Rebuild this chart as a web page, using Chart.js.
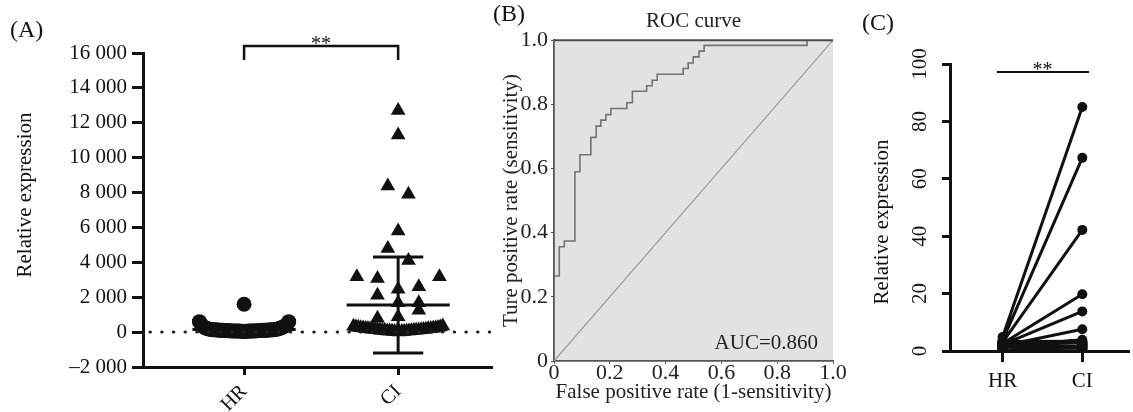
<!DOCTYPE html>
<html>
<head>
<meta charset="utf-8">
<script src="https://cdn.jsdelivr.net/npm/chart.js@4.4.1/dist/chart.umd.min.js"></script>
<style>
  html, body { margin: 0; padding: 0; background: #fff; }
  #wrap { position: relative; width: 1133px; height: 412px; overflow: hidden; }
  canvas { position: absolute; top: 0; }
  #chartA { left: 0; }
  #chartB { left: 490px; }
  #chartC { left: 850px; }
</style>
</head>
<body>
<div id="wrap">
  <canvas id="chartA" width="500" height="412"></canvas>
  <canvas id="chartB" width="362" height="412"></canvas>
  <canvas id="chartC" width="283" height="412"></canvas>
</div>
<script>
// ---- data ----
const groups = ['HR', 'CI'];

// (A) relative expression per sample, HR = circles, CI = triangles
const hrValues = [600, 430, 340, 270, 220, 190, 170, 150, 140, 130, 120, 120, 110, 100, 100, 90, 90, 80, 80, 70,
  70, 60, 60, 60, 50, 50, 1600, 40, 50, 50, 60, 60, 70, 70, 80, 80, 90, 90, 100, 100,
  110, 120, 120, 130, 140, 150, 170, 190, 220, 260, 310, 370, 450, 600];
const ciValues = [12700, 11300, 8370, 7900, 5800, 4800, 4100, 3170, 3080, 2460, 2600, 3170, 2120, 1680, 1680, 790, 880, 1260,
  340, 300, 280, 250, 240, 210, 200, 180, 160, 150, 130, 110, 110, 90, 70, 70, 50, 30, 20, 10,
  30, 40, 60, 60, 80, 100, 100, 120, 130, 150, 160, 190, 200, 220, 240, 270, 300, 350];
const hrMean = 150, hrSD = 220;
const ciMean = 1550, ciSD = 2750;

// (B) ROC curve corners
const fpr = [0, 0, 0.019, 0.037, 0.075, 0.093, 0.132, 0.151, 0.168, 0.186, 0.204, 0.261, 0.281, 0.332, 0.352, 0.370, 0.463, 0.481, 0.499, 0.520, 0.538, 0.907, 1];
const tpr = [0, 0.265, 0.356, 0.374, 0.590, 0.643, 0.697, 0.732, 0.751, 0.768, 0.787, 0.805, 0.841, 0.858, 0.875, 0.894, 0.912, 0.929, 0.948, 0.966, 0.984, 1, 1];
const aucText = 'AUC=0.860';

// (C) paired samples HR -> CI
const hrPaired = [4.9, 3.6, 3.0, 2.6, 2.2, 1.8, 1.5, 3.0, 2.6, 2.2, 1.9, 1.5, 1.2, 0.9, 0.6, 2.8, 1.7, 1.1, 0.8, 2.4, 2.0, 1.4, 3.3, 0.7, 1.6, 2.9, 1.0];
const ciPaired = [85.0, 67.3, 42.2, 19.8, 13.8, 7.6, 3.9, 3.2, 2.9, 2.5, 2.1, 1.8, 1.5, 1.2, 0.9, 0.6, 3.0, 2.2, 1.3, 2.7, 1.9, 0.8, 3.4, 1.0, 2.4, 1.6, 2.0];

// ---- helpers ----
const serif = "'Liberation Serif', 'Times New Roman', serif";
const ink = '#111';
Chart.defaults.font.family = serif;
Chart.defaults.color = ink;

// prism-like scatter layout: rows of similar values spread around the group centre
function swarm(values, center, step, halfWidth, rowGap) {
  const order = values.map((v, i) => i).sort((a, b) => values[b] - values[a] || a - b);
  const rows = [];
  order.forEach(i => {
    const row = rows[rows.length - 1];
    if (row && values[row[0]] - values[i] < rowGap) row.push(i);
    else rows.push([i]);
  });
  const pts = [];
  rows.forEach(row => {
    row.sort((a, b) => a - b);
    const n = row.length;
    const d = n > 1 ? Math.min(step, 2 * halfWidth / (n - 1)) : 0;
    row.forEach((idx, k) => pts.push({ x: center + (k - (n - 1) / 2) * d, y: values[idx] }));
  });
  return pts;
}

function errorBar(center, mean, sd, meanHalf, capHalf) {
  return [
    { x: center - meanHalf, y: mean }, { x: center + meanHalf, y: mean }, { x: center, y: null },
    { x: center - capHalf, y: mean + sd }, { x: center + capHalf, y: mean + sd }, { x: center, y: null },
    { x: center - capHalf, y: mean - sd }, { x: center + capHalf, y: mean - sd }, { x: center, y: null },
    { x: center, y: mean + sd }, { x: center, y: mean - sd }
  ];
}

function thousands(v) {
  const s = Math.abs(v).toString().replace(/\B(?=(\d{3})+(?!\d))/g, ' ');
  return (v < 0 ? '\u2013' : '') + s;
}

function text(ctx, str, x, y, size, opts = {}) {
  ctx.save();
  ctx.translate(x, y);
  if (opts.vertical) ctx.rotate(-Math.PI / 2);
  ctx.font = `${size}px ${serif}`;
  ctx.fillStyle = opts.color || ink;
  ctx.textAlign = opts.align || 'center';
  ctx.textBaseline = opts.baseline || 'middle';
  ctx.fillText(str, 0, 0);
  ctx.restore();
}

const axisFont = size => ({ family: serif, size: size, lineHeight: 1.2 });

// ---- (A) ----
const panelA = {
  id: 'panelA',
  afterDraw(chart) {
    const { ctx, scales: { x, y } } = chart;
    text(ctx, '(A)', 10, 31, 24, { align: 'left' });
    text(ctx, 'Relative expression', 25, 195, 21, { vertical: true });
    // significance bracket HR vs CI
    const x0 = x.getPixelForValue(0), x1 = x.getPixelForValue(1);
    const top = y.getPixelForValue(16400), leg = y.getPixelForValue(15600);
    ctx.save();
    ctx.strokeStyle = ink;
    ctx.lineWidth = 2.5;
    ctx.beginPath();
    ctx.moveTo(x0, leg); ctx.lineTo(x0, top); ctx.lineTo(x1, top); ctx.lineTo(x1, leg);
    ctx.stroke();
    ctx.restore();
    text(ctx, '**', (x0 + x1) / 2, top + 4, 20, { baseline: 'alphabetic' });
  }
};

new Chart(document.getElementById('chartA'), {
  type: 'scatter',
  data: {
    datasets: [
      { data: [{ x: -0.611, y: 0 }, { x: 1.606, y: 0 }], showLine: true, borderColor: '#222', borderWidth: 3,
        borderDash: [0.5, 11.2], borderCapStyle: 'round', pointRadius: 0 },
      { data: swarm(hrValues, 0, 0.134, 0.29, 750), pointStyle: 'circle', pointRadius: 7.5,
        backgroundColor: ink, pointBorderWidth: 0 },
      { data: swarm(ciValues, 1, 0.134, 0.29, 750), pointStyle: 'triangle', pointRadius: 8.5,
        backgroundColor: ink, pointBorderWidth: 0 },
      { data: errorBar(0, hrMean, hrSD, 0.335, 0.163), showLine: true, borderColor: ink, borderWidth: 3, pointRadius: 0 },
      { data: errorBar(1, ciMean, ciSD, 0.335, 0.163), showLine: true, borderColor: ink, borderWidth: 3, pointRadius: 0 }
    ]
  },
  options: {
    responsive: false,
    animation: false,
    devicePixelRatio: 1,
    layout: { padding: { left: 0, right: 2, top: 53, bottom: 0 } },
    plugins: { legend: { display: false }, tooltip: { enabled: false } },
    scales: {
      x: {
        type: 'linear', min: -0.656, max: 1.606,
        afterBuildTicks: s => { s.ticks = groups.map((g, i) => ({ value: i })); },
        afterFit: s => { s.height = 45; },
        grid: { drawOnChartArea: false, color: ink, lineWidth: 3, tickLength: 8 },
        border: { color: ink, width: 3 },
        ticks: { callback: v => groups[v], minRotation: 45, maxRotation: 45, padding: 5, font: axisFont(20) }
      },
      y: {
        min: -2000, max: 16000,
        afterFit: s => { s.width = 143; },
        grid: { drawOnChartArea: false, color: ink, lineWidth: 3, tickLength: 11 },
        border: { color: ink, width: 3 },
        ticks: { stepSize: 2000, callback: thousands, padding: 5, font: axisFont(21) }
      }
    }
  },
  plugins: [panelA]
});

// ---- (B) ----
const rocPanel = {
  id: 'rocPanel',
  beforeDraw(chart) {
    const { ctx, chartArea: a } = chart;
    ctx.save();
    ctx.fillStyle = '#e2e2e4';
    ctx.fillRect(a.left, a.top, a.width, a.height);
    ctx.restore();
  },
  afterDraw(chart) {
    const { ctx, chartArea: a } = chart;
    ctx.save();
    ctx.strokeStyle = '#4a4a4a';
    ctx.lineWidth = 2;
    ctx.beginPath();
    ctx.moveTo(a.left, a.top); ctx.lineTo(a.right, a.top);
    ctx.stroke();
    ctx.restore();
    text(ctx, aucText, a.right - 15, a.bottom - 18, 21, { align: 'right', color: '#222' });
    text(ctx, '(B)', 3, 15, 24, { align: 'left' });
  }
};

new Chart(document.getElementById('chartB'), {
  type: 'scatter',
  data: {
    datasets: [
      { data: [{ x: 0, y: 0 }, { x: 1, y: 1 }], showLine: true, borderColor: '#9a9a9a', borderWidth: 1.2, pointRadius: 0 },
      { data: fpr.map((v, i) => ({ x: v, y: tpr[i] })), showLine: true, stepped: 'before',
        borderColor: '#727272', borderWidth: 1.6, pointRadius: 0 }
    ]
  },
  options: {
    responsive: false,
    animation: false,
    devicePixelRatio: 1,
    layout: { padding: { left: 0, right: 19, top: 0, bottom: 0 } },
    plugins: {
      legend: { display: false }, tooltip: { enabled: false },
      title: { display: true, text: 'ROC curve', fullSize: false, color: '#222',
        font: { family: serif, size: 21, weight: 'normal', lineHeight: 1.2 }, padding: { top: 9, bottom: 6 } }
    },
    scales: {
      x: {
        min: 0, max: 1,
        afterFit: s => { s.height = 51; },
        grid: { drawOnChartArea: false, color: '#555', lineWidth: 1, tickLength: 3 },
        border: { color: '#555', width: 1.8 },
        ticks: { stepSize: 0.2, callback: v => v === 0 ? '0' : v.toFixed(1), padding: -4, color: '#222', font: axisFont(22) },
        title: { display: true, text: 'False positive rate (1-sensitivity)', color: '#222', font: axisFont(21), padding: { top: 0, bottom: 7 } }
      },
      y: {
        min: 0, max: 1,
        afterFit: s => { s.width = 64; },
        grid: { drawOnChartArea: false, color: '#555', lineWidth: 1, tickLength: 3 },
        border: { color: '#555', width: 1.8 },
        ticks: { stepSize: 0.2, callback: v => v === 0 ? '0' : v.toFixed(1), padding: 3, color: '#222', font: axisFont(22) },
        title: { display: true, text: 'Ture positive rate (sensitivity)', color: '#222', font: axisFont(21), padding: { top: 9, bottom: 0 } }
      }
    }
  },
  plugins: [rocPanel]
});

// ---- (C) ----
const pairedPoints = [];
hrPaired.forEach((v, i) => {
  pairedPoints.push({ x: 0, y: v }, { x: 1, y: ciPaired[i] }, { x: 0.5, y: null });
});

const panelC = {
  id: 'panelC',
  afterDraw(chart) {
    const { ctx, scales: { x, y } } = chart;
    text(ctx, '(C)', 12, 24, 24, { align: 'left' });
    text(ctx, 'Relative expression', 32, 222, 21, { vertical: true });
    const ly = y.getPixelForValue(97.2);
    ctx.save();
    ctx.strokeStyle = ink;
    ctx.lineWidth = 2;
    ctx.beginPath();
    ctx.moveTo(x.getPixelForValue(-0.073), ly); ctx.lineTo(x.getPixelForValue(1.085), ly);
    ctx.stroke();
    ctx.restore();
    text(ctx, '**', x.getPixelForValue(0.5), ly + 4, 20, { baseline: 'alphabetic' });
  }
};

new Chart(document.getElementById('chartC'), {
  type: 'scatter',
  data: {
    datasets: [
      { data: pairedPoints, showLine: true, borderColor: ink, borderWidth: 3,
        pointRadius: 5, pointStyle: 'circle', backgroundColor: ink, pointBorderWidth: 0 }
    ]
  },
  options: {
    responsive: false,
    animation: false,
    devicePixelRatio: 1,
    layout: { padding: { left: 0, right: 0, top: 64, bottom: 0 } },
    plugins: { legend: { display: false }, tooltip: { enabled: false } },
    scales: {
      x: {
        type: 'linear', min: -0.659, max: 1.573,
        afterBuildTicks: s => { s.ticks = groups.map((g, i) => ({ value: i })); },
        afterFit: s => { s.height = 61; },
        grid: { drawOnChartArea: false, color: ink, lineWidth: 3, tickLength: 11 },
        border: { color: ink, width: 3 },
        ticks: { callback: v => groups[v], padding: 7, font: axisFont(21) }
      },
      y: {
        min: 0, max: 100,
        afterFit: s => { s.width = 100; },
        grid: { drawOnChartArea: false, color: ink, lineWidth: 3, tickLength: 8 },
        border: { color: ink, width: 3 },
        ticks: { stepSize: 20, minRotation: 90, maxRotation: 90, crossAlign: 'center', padding: 6, font: axisFont(21) }
      }
    }
  },
  plugins: [panelC]
});
</script>
</body>
</html>
